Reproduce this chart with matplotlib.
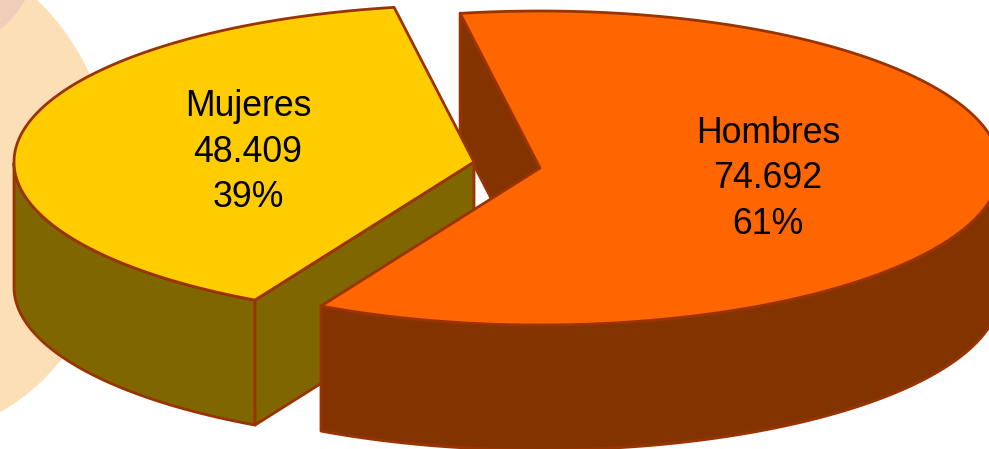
import numpy as np
import matplotlib
matplotlib.use("Agg")
import matplotlib.pyplot as plt
from matplotlib.patches import Polygon, Ellipse

labels = ["Hombres", "Mujeres"]
values = [74692, 48409]

plt.rcParams["font.family"] = ["Liberation Sans", "DejaVu Sans"]

# projected pie geometry, in pixels
rx = 460
ry = 157
depth = 125
start_deg = 100
edge = "#993300"

fig = plt.figure(figsize=(9.89, 4.49), dpi=100)
ax = fig.add_axes([0, 0, 1, 1])
ax.set_xlim(0, 989)
ax.set_ylim(449, 0)
ax.axis("off")

# background shapes behind the pie
ax.add_patch(Ellipse((-90, 190), 412, 490, angle=-3, fc="#FDDFB7", ec="none", zorder=1))
ax.add_patch(Ellipse((-62, -49), 200, 200, fc="#EFCDB8", ec="none", zorder=2))


def rim(cx, cy, t):
    r = np.radians(t)
    return np.column_stack([cx + rx * np.cos(r), cy - ry * np.sin(r)])


def shape(pts, fc, z):
    ax.add_patch(Polygon(pts, closed=True, fc=fc, ec=edge, lw=2, joinstyle="round", zorder=z))


total = sum(values)
span_h = 360 * values[0] / total
span_m = 360 * values[1] / total
down = np.array([0, depth])

# Hombres runs clockwise from the start angle
hx, hy = 540, 168
h_t = np.linspace(start_deg, start_deg - span_h, 300)
h_rim = rim(hx, hy, h_t)
h_tip = np.array([hx, hy])
h_first = h_rim[0]

# Mujeres runs counter-clockwise from the start angle
mx, my = 474, 162
m_t = np.linspace(start_deg, start_deg + span_m, 200)
m_rim = rim(mx, my, m_t)
m_tip = np.array([mx, my])
m_last = m_rim[-1]

# inner cut wall of Hombres, seen behind Mujeres
shape([h_first, h_tip, h_tip + down, h_first + down], "#833300", 3)

# Mujeres sides and top
low = m_t >= 180
shape(np.vstack([m_rim[low], m_rim[low][::-1] + down]), "#806600", 4)
shape([m_tip, m_last, m_last + down, m_tip + down], "#806600", 4)
shape(np.vstack([m_tip, m_rim]), "#FFCC00", 5)

# Hombres front wall and top
front = h_t <= 0
shape(np.vstack([h_rim[front], h_rim[front][::-1] + down]), "#833300", 6)
shape(np.vstack([h_tip, h_rim]), "#FF6600", 7)

label_pos = [(248, 152), (768, 179)]
for name, val, pos in zip(labels[::-1], values[::-1], label_pos):
    txt = f"{name}\n{val:,}".replace(",", ".") + f"\n{round(100 * val / total)}%"
    ax.text(pos[0], pos[1], txt, ha="center", va="center", fontsize=25.7,
            linespacing=1.38, color="black", zorder=8)

fig.savefig("out.png", dpi=100)
